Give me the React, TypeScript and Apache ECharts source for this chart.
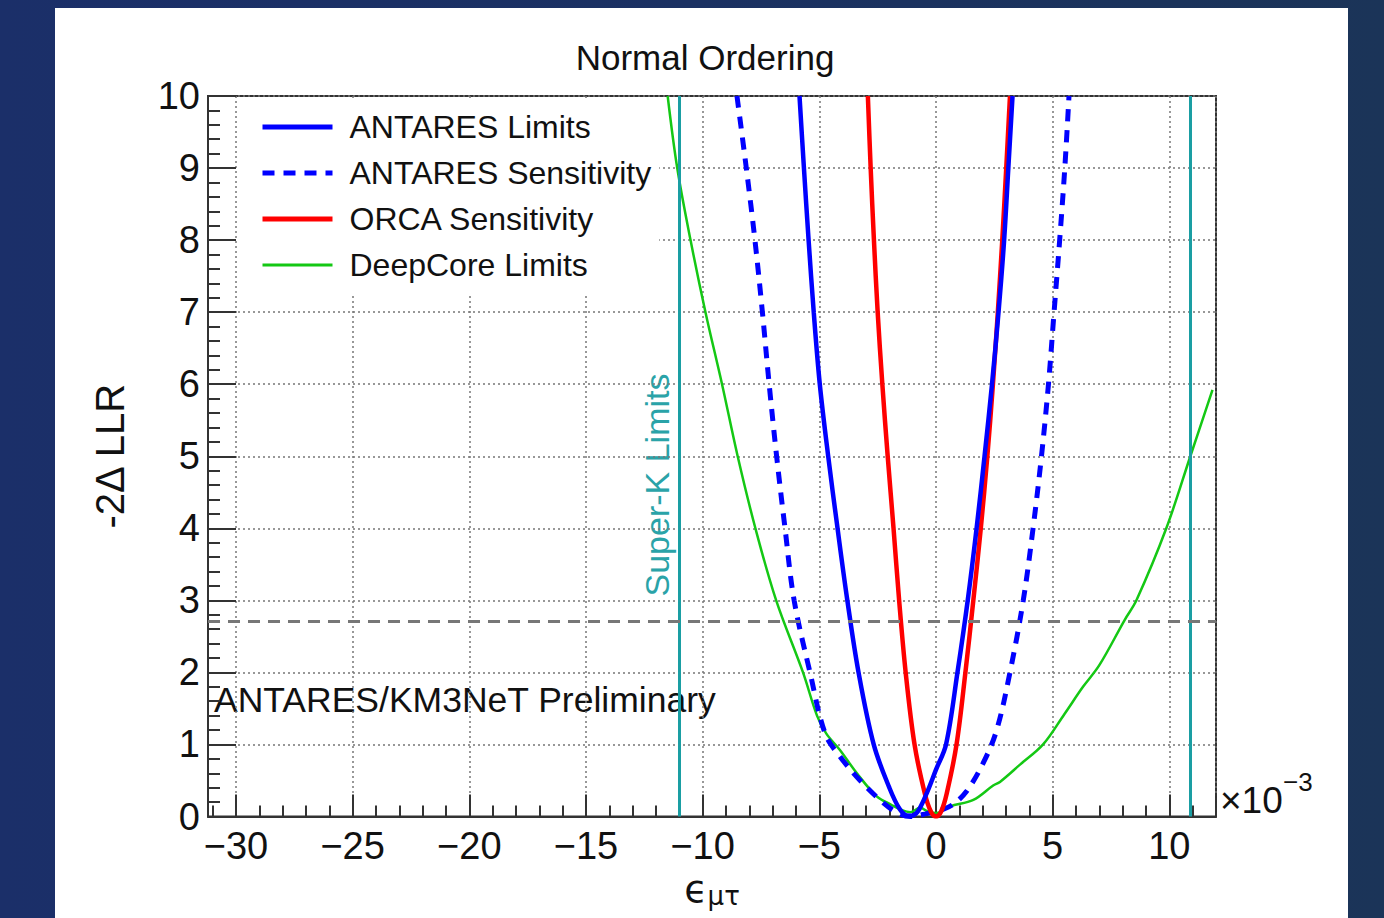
import React, { useEffect, useRef } from "react";
import * as echarts from "echarts";

// x values in units of 1e-3
const antaresLimits: number[][] = [
  [-5.85, 10], [-5.66, 9], [-5.46, 8], [-5.24, 7], [-4.98, 6], [-4.62, 5], [-4.22, 4],
  [-3.8, 3], [-3.32, 2], [-2.67, 1], [-2.0, 0.4], [-1.55, 0.1], [-1.2, 0.01], [-0.95, 0.02],
  [-0.72, 0.1], [-0.4, 0.32], [0.0, 0.65], [0.43, 1], [0.92, 2], [1.36, 3], [1.74, 4],
  [2.08, 5], [2.4, 6], [2.68, 7], [2.92, 8], [3.1, 9], [3.28, 10],
];
const antaresSensitivity: number[][] = [
  [-8.53, 10], [-8.13, 9], [-7.76, 8], [-7.44, 7], [-7.15, 6], [-6.83, 5], [-6.47, 4],
  [-6.08, 3], [-5.4, 2], [-4.75, 1.15], [-4.11, 0.83], [-3.25, 0.5], [-2.4, 0.23],
  [-1.7, 0.06], [-1.1, 0.0], [-0.4, 0.04], [0.3, 0.1], [0.74, 0.17], [1.31, 0.35],
  [2.02, 0.74], [2.6, 1.2], [3.17, 2], [3.74, 3], [4.16, 4], [4.52, 5], [4.82, 6],
  [5.06, 7], [5.3, 8], [5.52, 9], [5.7, 10],
];
const orcaSensitivity: number[][] = [
  [-2.92, 10], [-2.8, 9], [-2.66, 8], [-2.5, 7], [-2.3, 6], [-2.07, 5], [-1.82, 4],
  [-1.58, 3], [-1.3, 2], [-0.92, 1], [-0.48, 0.32], [-0.22, 0.07], [0.0, 0], [0.22, 0.07],
  [0.46, 0.32], [0.88, 1], [1.26, 2], [1.6, 3], [1.92, 4], [2.2, 5], [2.44, 6],
  [2.65, 7], [2.84, 8], [3.01, 9], [3.17, 10],
];
const deepCoreLimits: number[][] = [
  [-11.5, 10], [-11.09, 9], [-10.52, 8], [-9.88, 7], [-9.17, 6], [-8.5, 5], [-7.74, 4],
  [-6.85, 3], [-5.7, 2], [-5.1, 1.4], [-4.7, 1.15], [-4.11, 0.92], [-3.39, 0.6],
  [-2.54, 0.28], [-1.9, 0.16], [-1.54, 0.1], [-1.1, 0.06], [-0.68, 0.12], [-0.3, 0.06],
  [0.03, 0.05], [0.6, 0.14], [1.6, 0.23], [2.45, 0.43], [2.74, 0.48], [3.6, 0.72],
  [4.59, 1], [5.5, 1.42], [6.3, 1.8], [7.0, 2.1], [8.09, 2.73], [8.59, 3], [9.87, 4],
  [10.9, 5], [11.85, 5.92],
];
const superKLimits: number[] = [-11, 10.9];
const clLevel = 2.71;
const seriesNames = ["ANTARES Limits", "ANTARES Sensitivity", "ORCA Sensitivity", "DeepCore Limits"];
const legendLineWidths = [5, 5, 5, 3];
const xRange = [-31.2, 12];
const yRange = [0, 10];

const FONT = "'Liberation Sans', Arial, Helvetica, sans-serif";
const TEAL = "#1a9ea3";

export default function App() {
  const ref = useRef<HTMLDivElement>(null);
  useEffect(() => {
    const chart = echarts.init(ref.current!, null, { renderer: "svg" });
    const axisColor = "#333";
    const gridLine = { show: true, lineStyle: { color: "#777", width: 1.5, type: [2, 3] } };
    chart.setOption({
      animation: false,
      backgroundColor: "transparent",
      textStyle: { fontFamily: FONT },
      title: {
        text: "Normal Ordering",
        left: 700,
        top: 35,
        textAlign: "center",
        textStyle: { fontSize: 35, fontWeight: "normal", color: "#111", fontFamily: FONT },
      },
      grid: {
        left: 208, right: 168, top: 96, bottom: 101.5,
        show: true, borderColor: axisColor, borderWidth: 2, backgroundColor: "transparent",
      },
      legend: {
        data: seriesNames.map((n, i) => ({ name: n, lineStyle: { width: legendLineWidths[i] } })),
        orient: "vertical",
        left: 238,
        top: 101,
        backgroundColor: "#fff",
        padding: [3, 8, 7, 22],
        itemWidth: 70,
        itemHeight: 14,
        itemGap: 0,
        selectedMode: false,
        itemStyle: { opacity: 0 },
        textStyle: { fontSize: 32, color: "#111", lineHeight: 46, padding: [0, 0, 0, 12], fontFamily: FONT },
      },
      xAxis: {
        type: "value",
        min: xRange[0],
        max: xRange[1],
        splitNumber: 9,
        axisLine: { show: true, onZero: false, lineStyle: { color: axisColor, width: 2 } },
        axisTick: { inside: true, length: 22, lineStyle: { color: axisColor, width: 2 } },
        minorTick: { show: true, splitNumber: 5, length: 11, lineStyle: { color: axisColor, width: 2 } },
        axisLabel: {
          showMinLabel: false,
          showMaxLabel: false,
          fontSize: 38,
          color: "#111",
          margin: 10,
          fontFamily: FONT,
          formatter: (v: number) => (v < 0 ? "\u2212" + Math.abs(v) : String(v)),
        },
        splitLine: gridLine,
        name: "{a|\u03F5}{b|\u03BC\u03C4}",
        nameLocation: "middle",
        nameGap: 52,
        nameTextStyle: {
          rich: {
            a: { fontSize: 38, color: "#111", fontFamily: "'DejaVu Sans', sans-serif", lineHeight: 40 },
            b: { fontSize: 26, color: "#111", fontFamily: "'DejaVu Sans', sans-serif", lineHeight: 26, padding: [14, 0, 0, 0] },
          },
        },
      },
      yAxis: {
        type: "value",
        min: yRange[0],
        max: yRange[1],
        interval: 1,
        axisLine: { show: true, onZero: false, lineStyle: { color: axisColor, width: 2 } },
        axisTick: { inside: true, length: 28, lineStyle: { color: axisColor, width: 2 } },
        minorTick: { show: true, splitNumber: 5, length: 12, lineStyle: { color: axisColor, width: 2 } },
        axisLabel: { fontSize: 38, color: "#111", margin: 8, fontFamily: FONT },
        splitLine: gridLine,
        name: "-2\u0394 LLR",
        nameLocation: "middle",
        nameRotate: 90,
        nameGap: 78,
        nameTextStyle: { fontSize: 40, color: "#111", fontFamily: FONT },
      },
      series: [
        {
          name: "DeepCore Limits",
          type: "line",
          data: deepCoreLimits,
          symbol: "none",
          smooth: 0.35,
          lineStyle: { color: "#14c814", width: 2.5 },
          itemStyle: { color: "#14c814" },
          markLine: {
            silent: true,
            symbol: ["none", "none"],
            label: { show: false },
            data: [
              ...superKLimits.map((v) => ({ xAxis: v, lineStyle: { color: TEAL, width: 3, type: "solid" } })),
              { yAxis: clLevel, lineStyle: { color: "#777", width: 3, type: [12, 8] } },
            ],
          },
        },
        {
          name: "ANTARES Sensitivity",
          type: "line",
          data: antaresSensitivity,
          symbol: "none",
          smooth: 0.35,
          lineStyle: { color: "#0000ff", width: 5, type: [12, 9] },
          itemStyle: { color: "#0000ff" },
        },
        {
          name: "ORCA Sensitivity",
          type: "line",
          data: orcaSensitivity,
          symbol: "none",
          smooth: 0.35,
          lineStyle: { color: "#ff0000", width: 4.5 },
          itemStyle: { color: "#ff0000" },
        },
        {
          name: "ANTARES Limits",
          type: "line",
          data: antaresLimits,
          symbol: "none",
          smooth: 0.35,
          lineStyle: { color: "#0000ff", width: 4.5 },
          itemStyle: { color: "#0000ff" },
        },
      ],
      graphic: [
        {
          type: "text",
          x: 657,
          y: 485,
          rotation: Math.PI / 2,
          style: { text: "Super-K Limits", fontSize: 34, fill: "#2aa3a8", align: "center", verticalAlign: "middle", fontFamily: FONT },
        },
        {
          type: "text",
          x: 214,
          y: 700,
          style: { text: "ANTARES/KM3NeT Preliminary", fontSize: 35.5, fill: "#111", verticalAlign: "middle", fontFamily: FONT },
        },
        {
          type: "text",
          x: 1220,
          y: 800,
          style: { text: "\u00D710", fontSize: 37, fill: "#111", verticalAlign: "middle", fontFamily: FONT },
        },
        {
          type: "text",
          x: 1283,
          y: 782,
          style: { text: "\u22123", fontSize: 26, fill: "#111", verticalAlign: "middle", fontFamily: FONT },
        },
      ],
    });
    return () => chart.dispose();
  }, []);
  return (
    <div
      style={{
        position: "fixed", left: 0, top: 0, width: 1384, height: 918,
        background: "linear-gradient(90deg, #1b2f69 0%, #1b3162 50%, #1b3458 100%)",
      }}
    >
      <div style={{ position: "absolute", left: 55, top: 8, width: 1293, height: 910, background: "#fff" }} />
      <div ref={ref} style={{ position: "absolute", left: 0, top: 0, width: 1384, height: 918 }} />
    </div>
  );
}
